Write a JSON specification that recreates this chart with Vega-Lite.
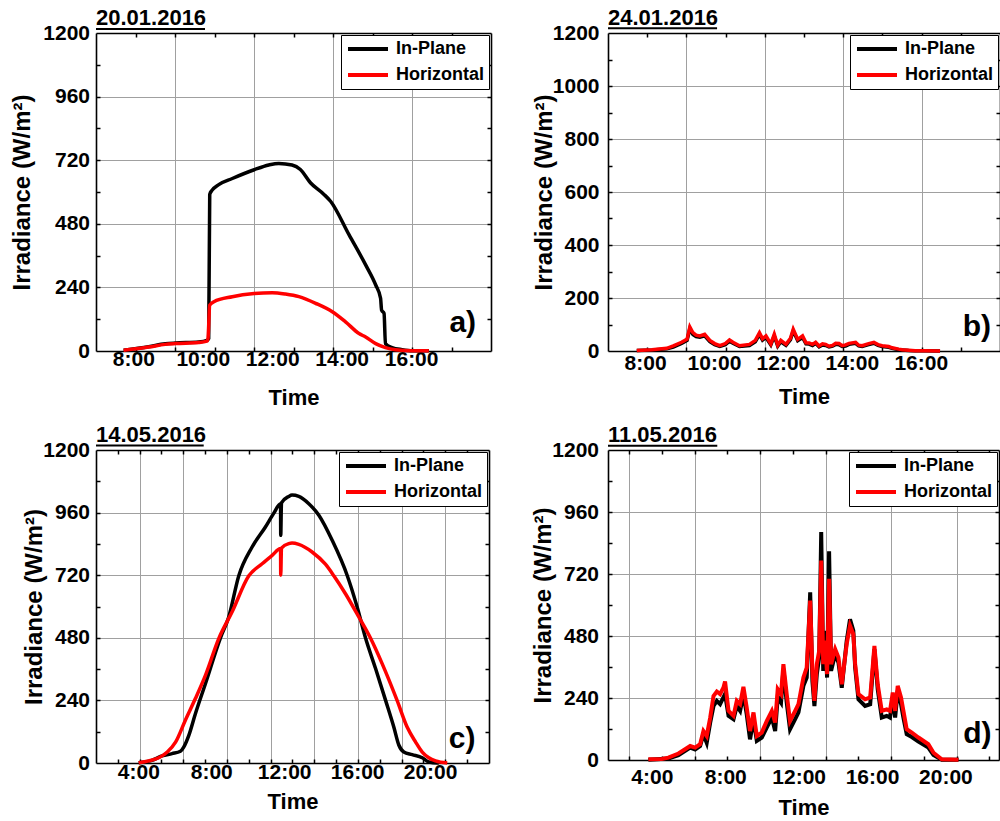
{
  "$schema": "https://vega.github.io/schema/vega-lite/v6.json",
  "padding": {"left": 10, "top": 7, "right": 0, "bottom": 0},
  "background": "white",
  "columns": 2,
  "bounds": "flush",
  "spacing": {"row": 99, "column": 117},
  "resolve": {"scale": {"color": "independent"}, "legend": {"color": "independent"}},
  "config": {
    "font": "Liberation Sans",
    "view": {"stroke": null},
    "axis": {
      "labelFont": "Liberation Sans", "titleFont": "Liberation Sans",
      "labelFontSize": 21, "labelFontWeight": "bold", "labelColor": "#000000",
      "titleFontSize": 22, "titleFontWeight": "bold", "titleColor": "#000000",
      "gridColor": "#a0a0a0", "gridOpacity": 1, "gridWidth": 1,
      "domainColor": "#000000", "domainWidth": 1.6,
      "tickColor": "#000000", "tickWidth": 1.5, "tickSize": -4,
      "labelFlush": false, "labelOverlap": false
    },
    "axisY": {"titleFontSize": 24},
    "title": {"font": "Liberation Sans", "fontSize": 22, "fontWeight": "bold", "anchor": "start", "frame": "group", "color": "#000000", "offset": -8},
    "legend": {
      "orient": "top-right", "offset": 2, "title": null,
      "symbolType": "stroke", "symbolSize": 1600, "symbolStrokeWidth": 4,
      "labelFont": "Liberation Sans", "labelFontSize": 18, "labelFontWeight": "bold", "labelColor": "#000000",
      "labelOffset": 6, "strokeColor": "#000000", "fillColor": "#ffffff",
      "padding": 5, "rowPadding": 8, "clipHeight": 18
    }
  },
  "datasets": {
    "A": [
      {"s": "In-Plane", "t": 7.72, "v": 3}, {"s": "In-Plane", "t": 8.44, "v": 16}, {"s": "In-Plane", "t": 8.92, "v": 27}, {"s": "In-Plane", "t": 9.21, "v": 30}, {"s": "In-Plane", "t": 9.88, "v": 34}, {"s": "In-Plane", "t": 10.12, "v": 40}, {"s": "In-Plane", "t": 10.17, "v": 47}, {"s": "In-Plane", "t": 10.2, "v": 591}, {"s": "In-Plane", "t": 10.27, "v": 607}, {"s": "In-Plane", "t": 10.46, "v": 628}, {"s": "In-Plane", "t": 10.85, "v": 651}, {"s": "In-Plane", "t": 11.48, "v": 684}, {"s": "In-Plane", "t": 11.9, "v": 702}, {"s": "In-Plane", "t": 12.19, "v": 708}, {"s": "In-Plane", "t": 12.57, "v": 702}, {"s": "In-Plane", "t": 12.81, "v": 685}, {"s": "In-Plane", "t": 13.1, "v": 635}, {"s": "In-Plane", "t": 13.49, "v": 591}, {"s": "In-Plane", "t": 13.68, "v": 565}, {"s": "In-Plane", "t": 14.21, "v": 439}, {"s": "In-Plane", "t": 14.69, "v": 325}, {"s": "In-Plane", "t": 14.98, "v": 249}, {"s": "In-Plane", "t": 15.12, "v": 199}, {"s": "In-Plane", "t": 15.15, "v": 154}, {"s": "In-Plane", "t": 15.22, "v": 142}, {"s": "In-Plane", "t": 15.26, "v": 28}, {"s": "In-Plane", "t": 15.45, "v": 13}, {"s": "In-Plane", "t": 15.74, "v": 5}, {"s": "In-Plane", "t": 16.03, "v": 1}, {"s": "In-Plane", "t": 16.51, "v": 1},
      {"s": "Horizontal", "t": 7.72, "v": 3}, {"s": "Horizontal", "t": 8.44, "v": 15}, {"s": "Horizontal", "t": 8.92, "v": 25}, {"s": "Horizontal", "t": 9.21, "v": 28}, {"s": "Horizontal", "t": 9.88, "v": 32}, {"s": "Horizontal", "t": 10.12, "v": 37}, {"s": "Horizontal", "t": 10.15, "v": 47}, {"s": "Horizontal", "t": 10.2, "v": 173}, {"s": "Horizontal", "t": 10.32, "v": 186}, {"s": "Horizontal", "t": 10.85, "v": 205}, {"s": "Horizontal", "t": 11.48, "v": 217}, {"s": "Horizontal", "t": 12.0, "v": 220}, {"s": "Horizontal", "t": 12.38, "v": 215}, {"s": "Horizontal", "t": 12.77, "v": 205}, {"s": "Horizontal", "t": 13.25, "v": 180}, {"s": "Horizontal", "t": 13.73, "v": 148}, {"s": "Horizontal", "t": 14.11, "v": 110}, {"s": "Horizontal", "t": 14.5, "v": 66}, {"s": "Horizontal", "t": 14.69, "v": 53}, {"s": "Horizontal", "t": 14.98, "v": 28}, {"s": "Horizontal", "t": 15.26, "v": 13}, {"s": "Horizontal", "t": 15.55, "v": 5}, {"s": "Horizontal", "t": 16.03, "v": 1}, {"s": "Horizontal", "t": 16.51, "v": 1}
    ],
    "B": [
      {"s": "In-Plane", "t": 7.76, "v": 2}, {"s": "In-Plane", "t": 8.2, "v": 4}, {"s": "In-Plane", "t": 8.63, "v": 8}, {"s": "In-Plane", "t": 8.82, "v": 15}, {"s": "In-Plane", "t": 9.06, "v": 29}, {"s": "In-Plane", "t": 9.15, "v": 35}, {"s": "In-Plane", "t": 9.22, "v": 40}, {"s": "In-Plane", "t": 9.3, "v": 84}, {"s": "In-Plane", "t": 9.39, "v": 62}, {"s": "In-Plane", "t": 9.48, "v": 54}, {"s": "In-Plane", "t": 9.59, "v": 52}, {"s": "In-Plane", "t": 9.73, "v": 57}, {"s": "In-Plane", "t": 9.88, "v": 35}, {"s": "In-Plane", "t": 10.02, "v": 24}, {"s": "In-Plane", "t": 10.17, "v": 17}, {"s": "In-Plane", "t": 10.33, "v": 24}, {"s": "In-Plane", "t": 10.45, "v": 37}, {"s": "In-Plane", "t": 10.55, "v": 29}, {"s": "In-Plane", "t": 10.74, "v": 17}, {"s": "In-Plane", "t": 11.03, "v": 21}, {"s": "In-Plane", "t": 11.2, "v": 35}, {"s": "In-Plane", "t": 11.32, "v": 63}, {"s": "In-Plane", "t": 11.41, "v": 41}, {"s": "In-Plane", "t": 11.51, "v": 51}, {"s": "In-Plane", "t": 11.65, "v": 23}, {"s": "In-Plane", "t": 11.75, "v": 57}, {"s": "In-Plane", "t": 11.85, "v": 18}, {"s": "In-Plane", "t": 11.94, "v": 35}, {"s": "In-Plane", "t": 12.09, "v": 21}, {"s": "In-Plane", "t": 12.22, "v": 43}, {"s": "In-Plane", "t": 12.3, "v": 76}, {"s": "In-Plane", "t": 12.43, "v": 39}, {"s": "In-Plane", "t": 12.57, "v": 51}, {"s": "In-Plane", "t": 12.67, "v": 27}, {"s": "In-Plane", "t": 12.76, "v": 26}, {"s": "In-Plane", "t": 12.86, "v": 21}, {"s": "In-Plane", "t": 12.95, "v": 29}, {"s": "In-Plane", "t": 13.05, "v": 16}, {"s": "In-Plane", "t": 13.15, "v": 23}, {"s": "In-Plane", "t": 13.24, "v": 21}, {"s": "In-Plane", "t": 13.34, "v": 15}, {"s": "In-Plane", "t": 13.44, "v": 18}, {"s": "In-Plane", "t": 13.53, "v": 25}, {"s": "In-Plane", "t": 13.63, "v": 24}, {"s": "In-Plane", "t": 13.72, "v": 17}, {"s": "In-Plane", "t": 13.82, "v": 19}, {"s": "In-Plane", "t": 13.92, "v": 25}, {"s": "In-Plane", "t": 14.11, "v": 29}, {"s": "In-Plane", "t": 14.2, "v": 19}, {"s": "In-Plane", "t": 14.3, "v": 17}, {"s": "In-Plane", "t": 14.49, "v": 24}, {"s": "In-Plane", "t": 14.64, "v": 29}, {"s": "In-Plane", "t": 14.76, "v": 21}, {"s": "In-Plane", "t": 14.88, "v": 17}, {"s": "In-Plane", "t": 15.07, "v": 14}, {"s": "In-Plane", "t": 15.17, "v": 10}, {"s": "In-Plane", "t": 15.36, "v": 5}, {"s": "In-Plane", "t": 15.46, "v": 4}, {"s": "In-Plane", "t": 15.65, "v": 2}, {"s": "In-Plane", "t": 15.84, "v": 1}, {"s": "In-Plane", "t": 16.13, "v": 1}, {"s": "In-Plane", "t": 16.56, "v": 0},
      {"s": "Horizontal", "t": 7.76, "v": 2}, {"s": "Horizontal", "t": 8.2, "v": 5}, {"s": "Horizontal", "t": 8.63, "v": 10}, {"s": "Horizontal", "t": 8.82, "v": 19}, {"s": "Horizontal", "t": 9.06, "v": 33}, {"s": "Horizontal", "t": 9.15, "v": 40}, {"s": "Horizontal", "t": 9.22, "v": 45}, {"s": "Horizontal", "t": 9.3, "v": 91}, {"s": "Horizontal", "t": 9.39, "v": 69}, {"s": "Horizontal", "t": 9.48, "v": 60}, {"s": "Horizontal", "t": 9.59, "v": 57}, {"s": "Horizontal", "t": 9.73, "v": 63}, {"s": "Horizontal", "t": 9.88, "v": 40}, {"s": "Horizontal", "t": 10.02, "v": 28}, {"s": "Horizontal", "t": 10.17, "v": 20}, {"s": "Horizontal", "t": 10.33, "v": 28}, {"s": "Horizontal", "t": 10.45, "v": 42}, {"s": "Horizontal", "t": 10.55, "v": 33}, {"s": "Horizontal", "t": 10.74, "v": 20}, {"s": "Horizontal", "t": 11.03, "v": 25}, {"s": "Horizontal", "t": 11.2, "v": 40}, {"s": "Horizontal", "t": 11.32, "v": 69}, {"s": "Horizontal", "t": 11.41, "v": 46}, {"s": "Horizontal", "t": 11.51, "v": 57}, {"s": "Horizontal", "t": 11.65, "v": 27}, {"s": "Horizontal", "t": 11.75, "v": 63}, {"s": "Horizontal", "t": 11.85, "v": 22}, {"s": "Horizontal", "t": 11.94, "v": 40}, {"s": "Horizontal", "t": 12.09, "v": 25}, {"s": "Horizontal", "t": 12.22, "v": 48}, {"s": "Horizontal", "t": 12.3, "v": 82}, {"s": "Horizontal", "t": 12.43, "v": 44}, {"s": "Horizontal", "t": 12.57, "v": 57}, {"s": "Horizontal", "t": 12.67, "v": 31}, {"s": "Horizontal", "t": 12.76, "v": 30}, {"s": "Horizontal", "t": 12.86, "v": 25}, {"s": "Horizontal", "t": 12.95, "v": 33}, {"s": "Horizontal", "t": 13.05, "v": 19}, {"s": "Horizontal", "t": 13.15, "v": 27}, {"s": "Horizontal", "t": 13.24, "v": 25}, {"s": "Horizontal", "t": 13.34, "v": 18}, {"s": "Horizontal", "t": 13.44, "v": 21}, {"s": "Horizontal", "t": 13.53, "v": 29}, {"s": "Horizontal", "t": 13.63, "v": 28}, {"s": "Horizontal", "t": 13.72, "v": 20}, {"s": "Horizontal", "t": 13.82, "v": 23}, {"s": "Horizontal", "t": 13.92, "v": 29}, {"s": "Horizontal", "t": 14.11, "v": 33}, {"s": "Horizontal", "t": 14.2, "v": 22}, {"s": "Horizontal", "t": 14.3, "v": 20}, {"s": "Horizontal", "t": 14.49, "v": 28}, {"s": "Horizontal", "t": 14.64, "v": 33}, {"s": "Horizontal", "t": 14.76, "v": 24}, {"s": "Horizontal", "t": 14.88, "v": 20}, {"s": "Horizontal", "t": 15.07, "v": 17}, {"s": "Horizontal", "t": 15.17, "v": 12}, {"s": "Horizontal", "t": 15.36, "v": 7}, {"s": "Horizontal", "t": 15.46, "v": 5}, {"s": "Horizontal", "t": 15.65, "v": 3}, {"s": "Horizontal", "t": 15.84, "v": 1}, {"s": "Horizontal", "t": 16.13, "v": 1}, {"s": "Horizontal", "t": 16.56, "v": 0}
    ],
    "C": [
      {"s": "In-Plane", "t": 4.02, "v": 1}, {"s": "In-Plane", "t": 4.75, "v": 10}, {"s": "In-Plane", "t": 5.3, "v": 27}, {"s": "In-Plane", "t": 5.85, "v": 36}, {"s": "In-Plane", "t": 6.31, "v": 45}, {"s": "In-Plane", "t": 6.49, "v": 61}, {"s": "In-Plane", "t": 6.77, "v": 106}, {"s": "In-Plane", "t": 7.13, "v": 189}, {"s": "In-Plane", "t": 7.68, "v": 304}, {"s": "In-Plane", "t": 8.5, "v": 479}, {"s": "In-Plane", "t": 8.96, "v": 560}, {"s": "In-Plane", "t": 9.51, "v": 718}, {"s": "In-Plane", "t": 10.24, "v": 828}, {"s": "In-Plane", "t": 10.97, "v": 905}, {"s": "In-Plane", "t": 11.43, "v": 958}, {"s": "In-Plane", "t": 11.8, "v": 994}, {"s": "In-Plane", "t": 11.81, "v": 873}, {"s": "In-Plane", "t": 11.85, "v": 997}, {"s": "In-Plane", "t": 12.25, "v": 1022}, {"s": "In-Plane", "t": 12.43, "v": 1027}, {"s": "In-Plane", "t": 12.8, "v": 1022}, {"s": "In-Plane", "t": 13.35, "v": 994}, {"s": "In-Plane", "t": 13.9, "v": 950}, {"s": "In-Plane", "t": 14.63, "v": 854}, {"s": "In-Plane", "t": 15.46, "v": 718}, {"s": "In-Plane", "t": 16.0, "v": 598}, {"s": "In-Plane", "t": 16.46, "v": 479}, {"s": "In-Plane", "t": 17.01, "v": 362}, {"s": "In-Plane", "t": 17.56, "v": 240}, {"s": "In-Plane", "t": 18.01, "v": 138}, {"s": "In-Plane", "t": 18.29, "v": 68}, {"s": "In-Plane", "t": 18.56, "v": 42}, {"s": "In-Plane", "t": 19.02, "v": 32}, {"s": "In-Plane", "t": 19.57, "v": 20}, {"s": "In-Plane", "t": 19.93, "v": 4}, {"s": "In-Plane", "t": 20.48, "v": 0},
      {"s": "Horizontal", "t": 4.02, "v": 1}, {"s": "Horizontal", "t": 4.57, "v": 8}, {"s": "Horizontal", "t": 5.12, "v": 20}, {"s": "Horizontal", "t": 5.59, "v": 42}, {"s": "Horizontal", "t": 6.05, "v": 81}, {"s": "Horizontal", "t": 6.58, "v": 164}, {"s": "Horizontal", "t": 7.13, "v": 247}, {"s": "Horizontal", "t": 7.68, "v": 336}, {"s": "Horizontal", "t": 8.41, "v": 477}, {"s": "Horizontal", "t": 9.14, "v": 579}, {"s": "Horizontal", "t": 10.06, "v": 718}, {"s": "Horizontal", "t": 10.79, "v": 764}, {"s": "Horizontal", "t": 11.34, "v": 796}, {"s": "Horizontal", "t": 11.8, "v": 822}, {"s": "Horizontal", "t": 11.81, "v": 720}, {"s": "Horizontal", "t": 11.85, "v": 824}, {"s": "Horizontal", "t": 12.25, "v": 841}, {"s": "Horizontal", "t": 12.43, "v": 843}, {"s": "Horizontal", "t": 12.8, "v": 838}, {"s": "Horizontal", "t": 13.53, "v": 809}, {"s": "Horizontal", "t": 14.26, "v": 762}, {"s": "Horizontal", "t": 14.72, "v": 718}, {"s": "Horizontal", "t": 15.36, "v": 649}, {"s": "Horizontal", "t": 16.09, "v": 560}, {"s": "Horizontal", "t": 16.73, "v": 479}, {"s": "Horizontal", "t": 17.37, "v": 381}, {"s": "Horizontal", "t": 18.19, "v": 240}, {"s": "Horizontal", "t": 18.74, "v": 138}, {"s": "Horizontal", "t": 19.2, "v": 81}, {"s": "Horizontal", "t": 19.57, "v": 42}, {"s": "Horizontal", "t": 19.93, "v": 20}, {"s": "Horizontal", "t": 20.3, "v": 8}, {"s": "Horizontal", "t": 20.94, "v": 0}
    ],
    "D": [
      {"s": "In-Plane", "t": 3.81, "v": 1}, {"s": "In-Plane", "t": 4.9, "v": 6}, {"s": "In-Plane", "t": 5.45, "v": 19}, {"s": "In-Plane", "t": 6.09, "v": 48}, {"s": "In-Plane", "t": 6.36, "v": 41}, {"s": "In-Plane", "t": 6.63, "v": 54}, {"s": "In-Plane", "t": 6.81, "v": 100}, {"s": "In-Plane", "t": 6.99, "v": 67}, {"s": "In-Plane", "t": 7.18, "v": 145}, {"s": "In-Plane", "t": 7.36, "v": 209}, {"s": "In-Plane", "t": 7.54, "v": 229}, {"s": "In-Plane", "t": 7.72, "v": 216}, {"s": "In-Plane", "t": 7.9, "v": 242}, {"s": "In-Plane", "t": 7.99, "v": 255}, {"s": "In-Plane", "t": 8.18, "v": 171}, {"s": "In-Plane", "t": 8.45, "v": 158}, {"s": "In-Plane", "t": 8.63, "v": 209}, {"s": "In-Plane", "t": 8.81, "v": 190}, {"s": "In-Plane", "t": 8.99, "v": 255}, {"s": "In-Plane", "t": 9.17, "v": 177}, {"s": "In-Plane", "t": 9.35, "v": 80}, {"s": "In-Plane", "t": 9.54, "v": 158}, {"s": "In-Plane", "t": 9.72, "v": 74}, {"s": "In-Plane", "t": 9.99, "v": 87}, {"s": "In-Plane", "t": 10.26, "v": 125}, {"s": "In-Plane", "t": 10.54, "v": 164}, {"s": "In-Plane", "t": 10.72, "v": 112}, {"s": "In-Plane", "t": 10.86, "v": 242}, {"s": "In-Plane", "t": 11.04, "v": 222}, {"s": "In-Plane", "t": 11.17, "v": 352}, {"s": "In-Plane", "t": 11.35, "v": 222}, {"s": "In-Plane", "t": 11.53, "v": 119}, {"s": "In-Plane", "t": 11.81, "v": 158}, {"s": "In-Plane", "t": 11.99, "v": 184}, {"s": "In-Plane", "t": 12.26, "v": 287}, {"s": "In-Plane", "t": 12.44, "v": 319}, {"s": "In-Plane", "t": 12.63, "v": 649}, {"s": "In-Plane", "t": 12.75, "v": 306}, {"s": "In-Plane", "t": 12.86, "v": 209}, {"s": "In-Plane", "t": 12.99, "v": 332}, {"s": "In-Plane", "t": 13.12, "v": 397}, {"s": "In-Plane", "t": 13.23, "v": 882}, {"s": "In-Plane", "t": 13.34, "v": 345}, {"s": "In-Plane", "t": 13.44, "v": 500}, {"s": "In-Plane", "t": 13.55, "v": 319}, {"s": "In-Plane", "t": 13.66, "v": 808}, {"s": "In-Plane", "t": 13.77, "v": 345}, {"s": "In-Plane", "t": 13.99, "v": 410}, {"s": "In-Plane", "t": 14.17, "v": 377}, {"s": "In-Plane", "t": 14.35, "v": 280}, {"s": "In-Plane", "t": 14.62, "v": 462}, {"s": "In-Plane", "t": 14.8, "v": 545}, {"s": "In-Plane", "t": 14.98, "v": 501}, {"s": "In-Plane", "t": 15.08, "v": 358}, {"s": "In-Plane", "t": 15.26, "v": 235}, {"s": "In-Plane", "t": 15.62, "v": 209}, {"s": "In-Plane", "t": 15.9, "v": 216}, {"s": "In-Plane", "t": 16.13, "v": 429}, {"s": "In-Plane", "t": 16.31, "v": 274}, {"s": "In-Plane", "t": 16.53, "v": 164}, {"s": "In-Plane", "t": 16.8, "v": 171}, {"s": "In-Plane", "t": 16.98, "v": 164}, {"s": "In-Plane", "t": 17.13, "v": 242}, {"s": "In-Plane", "t": 17.26, "v": 164}, {"s": "In-Plane", "t": 17.4, "v": 268}, {"s": "In-Plane", "t": 17.58, "v": 216}, {"s": "In-Plane", "t": 17.71, "v": 164}, {"s": "In-Plane", "t": 17.89, "v": 100}, {"s": "In-Plane", "t": 18.17, "v": 89}, {"s": "In-Plane", "t": 18.53, "v": 71}, {"s": "In-Plane", "t": 19.07, "v": 48}, {"s": "In-Plane", "t": 19.35, "v": 19}, {"s": "In-Plane", "t": 19.8, "v": 1}, {"s": "In-Plane", "t": 20.71, "v": 1},
      {"s": "Horizontal", "t": 3.81, "v": 3}, {"s": "Horizontal", "t": 4.54, "v": 4}, {"s": "Horizontal", "t": 4.9, "v": 9}, {"s": "Horizontal", "t": 5.45, "v": 25}, {"s": "Horizontal", "t": 6.09, "v": 54}, {"s": "Horizontal", "t": 6.36, "v": 48}, {"s": "Horizontal", "t": 6.63, "v": 61}, {"s": "Horizontal", "t": 6.81, "v": 112}, {"s": "Horizontal", "t": 6.99, "v": 93}, {"s": "Horizontal", "t": 7.18, "v": 164}, {"s": "Horizontal", "t": 7.36, "v": 248}, {"s": "Horizontal", "t": 7.54, "v": 265}, {"s": "Horizontal", "t": 7.72, "v": 255}, {"s": "Horizontal", "t": 7.9, "v": 280}, {"s": "Horizontal", "t": 7.99, "v": 304}, {"s": "Horizontal", "t": 8.18, "v": 190}, {"s": "Horizontal", "t": 8.45, "v": 171}, {"s": "Horizontal", "t": 8.63, "v": 229}, {"s": "Horizontal", "t": 8.81, "v": 216}, {"s": "Horizontal", "t": 8.99, "v": 283}, {"s": "Horizontal", "t": 9.17, "v": 203}, {"s": "Horizontal", "t": 9.35, "v": 112}, {"s": "Horizontal", "t": 9.54, "v": 184}, {"s": "Horizontal", "t": 9.72, "v": 93}, {"s": "Horizontal", "t": 9.99, "v": 106}, {"s": "Horizontal", "t": 10.26, "v": 151}, {"s": "Horizontal", "t": 10.54, "v": 190}, {"s": "Horizontal", "t": 10.72, "v": 145}, {"s": "Horizontal", "t": 10.86, "v": 274}, {"s": "Horizontal", "t": 11.04, "v": 255}, {"s": "Horizontal", "t": 11.17, "v": 371}, {"s": "Horizontal", "t": 11.35, "v": 255}, {"s": "Horizontal", "t": 11.53, "v": 151}, {"s": "Horizontal", "t": 11.81, "v": 190}, {"s": "Horizontal", "t": 11.99, "v": 216}, {"s": "Horizontal", "t": 12.26, "v": 319}, {"s": "Horizontal", "t": 12.44, "v": 358}, {"s": "Horizontal", "t": 12.63, "v": 617}, {"s": "Horizontal", "t": 12.75, "v": 345}, {"s": "Horizontal", "t": 12.86, "v": 229}, {"s": "Horizontal", "t": 12.99, "v": 371}, {"s": "Horizontal", "t": 13.12, "v": 423}, {"s": "Horizontal", "t": 13.23, "v": 772}, {"s": "Horizontal", "t": 13.34, "v": 371}, {"s": "Horizontal", "t": 13.44, "v": 462}, {"s": "Horizontal", "t": 13.55, "v": 332}, {"s": "Horizontal", "t": 13.66, "v": 701}, {"s": "Horizontal", "t": 13.77, "v": 371}, {"s": "Horizontal", "t": 13.99, "v": 429}, {"s": "Horizontal", "t": 14.17, "v": 397}, {"s": "Horizontal", "t": 14.35, "v": 293}, {"s": "Horizontal", "t": 14.62, "v": 449}, {"s": "Horizontal", "t": 14.8, "v": 520}, {"s": "Horizontal", "t": 14.98, "v": 487}, {"s": "Horizontal", "t": 15.08, "v": 371}, {"s": "Horizontal", "t": 15.26, "v": 255}, {"s": "Horizontal", "t": 15.62, "v": 235}, {"s": "Horizontal", "t": 15.9, "v": 242}, {"s": "Horizontal", "t": 16.13, "v": 442}, {"s": "Horizontal", "t": 16.31, "v": 293}, {"s": "Horizontal", "t": 16.53, "v": 190}, {"s": "Horizontal", "t": 16.8, "v": 196}, {"s": "Horizontal", "t": 16.98, "v": 190}, {"s": "Horizontal", "t": 17.13, "v": 261}, {"s": "Horizontal", "t": 17.26, "v": 190}, {"s": "Horizontal", "t": 17.4, "v": 287}, {"s": "Horizontal", "t": 17.58, "v": 242}, {"s": "Horizontal", "t": 17.71, "v": 190}, {"s": "Horizontal", "t": 17.89, "v": 119}, {"s": "Horizontal", "t": 18.17, "v": 106}, {"s": "Horizontal", "t": 18.53, "v": 87}, {"s": "Horizontal", "t": 19.07, "v": 61}, {"s": "Horizontal", "t": 19.35, "v": 28}, {"s": "Horizontal", "t": 19.8, "v": 3}, {"s": "Horizontal", "t": 20.71, "v": 1}
    ]
  },
  "concat": [
    {
      "width": 395, "height": 318,
      "title": {"text": "20.01.2016"},
      "resolve": {"axis": {"x": "independent", "y": "independent"}},
      "layer": [
        {
          "data": {"name": "A"},
          "mark": {"type": "line", "strokeWidth": 3.5, "interpolate": "monotone"},
          "encoding": {
            "x": {"field": "t", "type": "quantitative", "scale": {"domain": [6.925, 18.3], "nice": false, "zero": false}, "axis": {"orient": "bottom", "values": [9.2, 11.475, 13.75, 16.025], "grid": true, "ticks": false, "labels": false, "domain": false, "title": null}},
            "y": {"field": "v", "type": "quantitative", "scale": {"domain": [0, 1200], "nice": false}, "axis": {"orient": "left", "values": [240, 480, 720, 960], "grid": true, "ticks": false, "labels": false, "domain": false, "title": null}},
            "color": {"field": "s", "type": "nominal", "scale": {"domain": ["In-Plane", "Horizontal"], "range": ["#000000", "#ff0000"]}, "legend": {"orient": "top-right"}}
          }
        },
        {
          "data": {"values": [{"label": "a)"}]},
          "mark": {"type": "text", "align": "right", "baseline": "alphabetic", "fontSize": 30, "fontWeight": "bold", "color": "#000000"},
          "encoding": {
            "x": {"datum": 17.87, "type": "quantitative", "scale": {"domain": [6.925, 18.3], "nice": false, "zero": false}, "axis": {"orient": "bottom", "values": [8.0625, 9.2, 10.3375, 11.475, 12.6125, 13.75, 14.8875, 16.025, 17.1625], "grid": false, "labels": false, "title": null}},
            "y": {"datum": 72, "type": "quantitative", "scale": {"domain": [0, 1200], "nice": false}, "axis": {"orient": "left", "values": [120, 240, 360, 480, 600, 720, 840, 960, 1080], "grid": false, "labels": false, "title": null}},
            "text": {"field": "label"}
          }
        },
        {
          "data": {"values": [{"label": ""}]},
          "mark": {"type": "text"},
          "encoding": {
            "x": {"datum": 12, "type": "quantitative", "scale": {"domain": [6.925, 18.3], "nice": false, "zero": false}, "axis": {"orient": "bottom", "values": [8, 10, 12, 14, 16], "labelExpr": "floor(datum.value) + ':00'", "grid": false, "ticks": false, "domain": false, "labelPadding": -2.5, "title": "Time", "titlePadding": 18}},
            "y": {"datum": 600, "type": "quantitative", "scale": {"domain": [0, 1200], "nice": false}, "axis": {"orient": "left", "values": [0, 240, 480, 720, 960, 1200], "format": "d", "grid": false, "ticks": false, "domain": false, "labelPadding": 6.5, "title": "Irradiance (W/m²)", "titlePadding": 8}},
            "text": {"field": "label"}
          }
        },
        {
          "data": {"values": [{"label": ""}]},
          "mark": {"type": "rule", "color": "#000000", "strokeWidth": 2},
          "encoding": {
            "x": {"datum": 6.925, "type": "quantitative", "scale": {"domain": [6.925, 18.3], "nice": false, "zero": false}, "axis": {"orient": "top", "values": [8.0625, 9.2, 10.3375, 11.475, 12.6125, 13.75, 14.8875, 16.025, 17.1625], "grid": false, "labels": false, "title": null}},
            "x2": {"datum": 10.064},
            "y": {"datum": 1215, "type": "quantitative", "scale": {"domain": [0, 1200], "nice": false}, "axis": {"orient": "right", "values": [120, 240, 360, 480, 600, 720, 840, 960, 1080], "grid": false, "labels": false, "title": null}}
          }
        }
      ]
    },
    {
      "width": 392, "height": 318,
      "title": {"text": "24.01.2016"},
      "resolve": {"axis": {"x": "independent", "y": "independent"}},
      "layer": [
        {
          "data": {"name": "B"},
          "mark": {"type": "line", "strokeWidth": 3.5},
          "encoding": {
            "x": {"field": "t", "type": "quantitative", "scale": {"domain": [6.925, 18.3], "nice": false, "zero": false}, "axis": {"orient": "bottom", "values": [9.2, 11.475, 13.75, 16.025], "grid": true, "ticks": false, "labels": false, "domain": false, "title": null}},
            "y": {"field": "v", "type": "quantitative", "scale": {"domain": [0, 1200], "nice": false}, "axis": {"orient": "left", "values": [200, 400, 600, 800, 1000], "grid": true, "ticks": false, "labels": false, "domain": false, "title": null}},
            "color": {"field": "s", "type": "nominal", "scale": {"domain": ["In-Plane", "Horizontal"], "range": ["#000000", "#ff0000"]}, "legend": {"orient": "top-right"}}
          }
        },
        {
          "data": {"values": [{"label": "b)"}]},
          "mark": {"type": "text", "align": "right", "baseline": "alphabetic", "fontSize": 30, "fontWeight": "bold", "color": "#000000"},
          "encoding": {
            "x": {"datum": 18.04, "type": "quantitative", "scale": {"domain": [6.925, 18.3], "nice": false, "zero": false}, "axis": {"orient": "bottom", "values": [8.0625, 9.2, 10.3375, 11.475, 12.6125, 13.75, 14.8875, 16.025, 17.1625], "grid": false, "labels": false, "title": null}},
            "y": {"datum": 57, "type": "quantitative", "scale": {"domain": [0, 1200], "nice": false}, "axis": {"orient": "left", "values": [100, 200, 300, 400, 500, 600, 700, 800, 900, 1000, 1100], "grid": false, "labels": false, "title": null}},
            "text": {"field": "label"}
          }
        },
        {
          "data": {"values": [{"label": ""}]},
          "mark": {"type": "text"},
          "encoding": {
            "x": {"datum": 12, "type": "quantitative", "scale": {"domain": [6.925, 18.3], "nice": false, "zero": false}, "axis": {"orient": "bottom", "values": [8, 10, 12, 14, 16], "labelExpr": "floor(datum.value) + ':00'", "grid": false, "ticks": false, "domain": false, "labelPadding": 1, "title": "Time", "titlePadding": 13.5}},
            "y": {"datum": 600, "type": "quantitative", "scale": {"domain": [0, 1200], "nice": false}, "axis": {"orient": "left", "values": [0, 200, 400, 600, 800, 1000, 1200], "format": "d", "grid": false, "ticks": false, "domain": false, "labelPadding": 9, "title": "Irradiance (W/m²)", "titlePadding": -4.4}},
            "text": {"field": "label"}
          }
        },
        {
          "data": {"values": [{"label": ""}]},
          "mark": {"type": "rule", "color": "#000000", "strokeWidth": 2},
          "encoding": {
            "x": {"datum": 6.925, "type": "quantitative", "scale": {"domain": [6.925, 18.3], "nice": false, "zero": false}, "axis": {"orient": "top", "values": [8.0625, 9.2, 10.3375, 11.475, 12.6125, 13.75, 14.8875, 16.025, 17.1625], "grid": false, "labels": false, "title": null}},
            "x2": {"datum": 10.09},
            "y": {"datum": 1218, "type": "quantitative", "scale": {"domain": [0, 1200], "nice": false}, "axis": {"orient": "right", "values": [100, 200, 300, 400, 500, 600, 700, 800, 900, 1000, 1100], "grid": false, "labels": false, "title": null}}
          }
        }
      ]
    },
    {
      "width": 393, "height": 313,
      "title": {"text": "14.05.2016"},
      "resolve": {"axis": {"x": "independent", "y": "independent"}},
      "layer": [
        {
          "data": {"name": "C"},
          "mark": {"type": "line", "strokeWidth": 3.5, "interpolate": "monotone"},
          "encoding": {
            "x": {"field": "t", "type": "quantitative", "scale": {"domain": [1.68, 23.23], "nice": false, "zero": false}, "axis": {"orient": "bottom", "values": [4.074, 6.468, 8.862, 11.256, 13.65, 16.044, 18.438, 20.832], "grid": true, "ticks": false, "labels": false, "domain": false, "title": null}},
            "y": {"field": "v", "type": "quantitative", "scale": {"domain": [0, 1200], "nice": false}, "axis": {"orient": "left", "values": [240, 480, 720, 960], "grid": true, "ticks": false, "labels": false, "domain": false, "title": null}},
            "color": {"field": "s", "type": "nominal", "scale": {"domain": ["In-Plane", "Horizontal"], "range": ["#000000", "#ff0000"]}, "legend": {"orient": "top-right"}}
          }
        },
        {
          "data": {"values": [{"label": "c)"}]},
          "mark": {"type": "text", "align": "right", "baseline": "alphabetic", "fontSize": 30, "fontWeight": "bold", "color": "#000000"},
          "encoding": {
            "x": {"datum": 22.49, "type": "quantitative", "scale": {"domain": [1.68, 23.23], "nice": false, "zero": false}, "axis": {"orient": "bottom", "values": [2.877, 4.074, 5.271, 6.468, 7.665, 8.862, 10.059, 11.256, 12.453, 13.65, 14.847, 16.044, 17.241, 18.438, 19.635, 20.832, 22.029], "grid": false, "labels": false, "title": null}},
            "y": {"datum": 56, "type": "quantitative", "scale": {"domain": [0, 1200], "nice": false}, "axis": {"orient": "left", "values": [120, 240, 360, 480, 600, 720, 840, 960, 1080], "grid": false, "labels": false, "title": null}},
            "text": {"field": "label"}
          }
        },
        {
          "data": {"values": [{"label": ""}]},
          "mark": {"type": "text"},
          "encoding": {
            "x": {"datum": 12, "type": "quantitative", "scale": {"domain": [1.68, 23.23], "nice": false, "zero": false}, "axis": {"orient": "bottom", "values": [4, 8, 12, 16, 20], "labelExpr": "floor(datum.value) + ':00'", "grid": false, "ticks": false, "domain": false, "labelPadding": -1.5, "title": "Time", "titlePadding": 8.5}},
            "y": {"datum": 600, "type": "quantitative", "scale": {"domain": [0, 1200], "nice": false}, "axis": {"orient": "left", "values": [0, 240, 480, 720, 960, 1200], "format": "d", "grid": false, "ticks": false, "domain": false, "labelPadding": 6.5, "title": "Irradiance (W/m²)", "titlePadding": -4}},
            "text": {"field": "label"}
          }
        },
        {
          "data": {"values": [{"label": ""}]},
          "mark": {"type": "rule", "color": "#000000", "strokeWidth": 2},
          "encoding": {
            "x": {"datum": 1.68, "type": "quantitative", "scale": {"domain": [1.68, 23.23], "nice": false, "zero": false}, "axis": {"orient": "top", "values": [2.877, 4.074, 5.271, 6.468, 7.665, 8.862, 10.059, 11.256, 12.453, 13.65, 14.847, 16.044, 17.241, 18.438, 19.635, 20.832, 22.029], "grid": false, "labels": false, "title": null}},
            "x2": {"datum": 7.586},
            "y": {"datum": 1217, "type": "quantitative", "scale": {"domain": [0, 1200], "nice": false}, "axis": {"orient": "right", "values": [120, 240, 360, 480, 600, 720, 840, 960, 1080], "grid": false, "labels": false, "title": null}}
          }
        }
      ]
    },
    {
      "width": 391, "height": 310,
      "title": {"text": "11.05.2016"},
      "resolve": {"axis": {"x": "independent", "y": "independent"}},
      "layer": [
        {
          "data": {"name": "D"},
          "mark": {"type": "line", "strokeWidth": 4},
          "encoding": {
            "x": {"field": "t", "type": "quantitative", "scale": {"domain": [1.61, 22.92], "nice": false, "zero": false}, "axis": {"orient": "bottom", "values": [2.763, 6.333, 9.903, 13.473, 17.043, 20.613], "grid": true, "ticks": false, "labels": false, "domain": false, "title": null}},
            "y": {"field": "v", "type": "quantitative", "scale": {"domain": [0, 1200], "nice": false}, "axis": {"orient": "left", "values": [240, 480, 720, 960], "grid": true, "ticks": false, "labels": false, "domain": false, "title": null}},
            "color": {"field": "s", "type": "nominal", "scale": {"domain": ["In-Plane", "Horizontal"], "range": ["#000000", "#ff0000"]}, "legend": {"orient": "top-right"}}
          }
        },
        {
          "data": {"values": [{"label": "d)"}]},
          "mark": {"type": "text", "align": "right", "baseline": "alphabetic", "fontSize": 30, "fontWeight": "bold", "color": "#000000"},
          "encoding": {
            "x": {"datum": 22.51, "type": "quantitative", "scale": {"domain": [1.61, 22.92], "nice": false, "zero": false}, "axis": {"orient": "bottom", "values": [2.763, 4.548, 6.333, 8.118, 9.903, 11.688, 13.473, 15.258, 17.043, 18.828, 20.613, 22.398], "grid": false, "labels": false, "title": null}},
            "y": {"datum": 67, "type": "quantitative", "scale": {"domain": [0, 1200], "nice": false}, "axis": {"orient": "left", "values": [120, 240, 360, 480, 600, 720, 840, 960, 1080], "grid": false, "labels": false, "title": null}},
            "text": {"field": "label"}
          }
        },
        {
          "data": {"values": [{"label": ""}]},
          "mark": {"type": "text"},
          "encoding": {
            "x": {"datum": 12, "type": "quantitative", "scale": {"domain": [1.61, 22.92], "nice": false, "zero": false}, "axis": {"orient": "bottom", "values": [4, 8, 12, 16, 20], "labelExpr": "floor(datum.value) + ':00'", "grid": false, "ticks": false, "domain": false, "labelPadding": 6.7, "title": "Time", "titlePadding": 9.5}},
            "y": {"datum": 600, "type": "quantitative", "scale": {"domain": [0, 1200], "nice": false}, "axis": {"orient": "left", "values": [0, 240, 480, 720, 960, 1200], "format": "d", "grid": false, "ticks": false, "domain": false, "labelPadding": 9.5, "title": "Irradiance (W/m²)", "titlePadding": -3.4}},
            "text": {"field": "label"}
          }
        },
        {
          "data": {"values": [{"label": ""}]},
          "mark": {"type": "rule", "color": "#000000", "strokeWidth": 2},
          "encoding": {
            "x": {"datum": 1.61, "type": "quantitative", "scale": {"domain": [1.61, 22.92], "nice": false, "zero": false}, "axis": {"orient": "top", "values": [2.763, 4.548, 6.333, 8.118, 9.903, 11.688, 13.473, 15.258, 17.043, 18.828, 20.613, 22.398], "grid": false, "labels": false, "title": null}},
            "x2": {"datum": 7.566},
            "y": {"datum": 1216, "type": "quantitative", "scale": {"domain": [0, 1200], "nice": false}, "axis": {"orient": "right", "values": [120, 240, 360, 480, 600, 720, 840, 960, 1080], "grid": false, "labels": false, "title": null}}
          }
        }
      ]
    }
  ]
}
